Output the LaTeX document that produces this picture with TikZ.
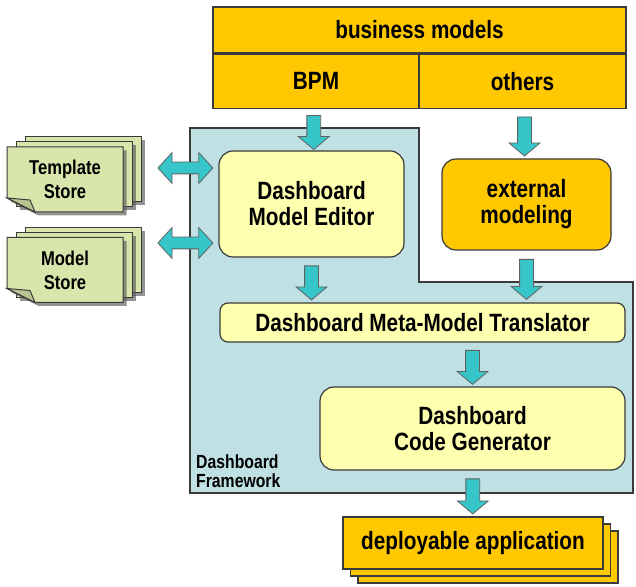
\documentclass[tikz,border=0pt]{standalone}
\usepackage{fontspec}
\setmainfont{Liberation Sans}[FakeStretch=0.83]
\usetikzlibrary{shapes.arrows, positioning, calc, shadows}
\definecolor{BizGold}{HTML}{FFC800}
\definecolor{BoxYellow}{HTML}{FFFFB0}
\definecolor{FrameBlue}{HTML}{C0E1E4}
\definecolor{FlowTeal}{HTML}{36C6CA}
\definecolor{StoreGreen}{HTML}{D8E6AC}
\definecolor{EdgeDark}{HTML}{3A3A3A}

\begin{document}
\begin{tikzpicture}[x=1pt, y=1pt, font=\bfseries\fontsize{25}{26}\selectfont,
        modelcell/.style={rectangle, draw=EdgeDark, line width=1.2pt, fill=BizGold, inner sep=0pt, text centered},
        compbox/.style={rectangle, rounded corners=14pt, draw=EdgeDark, line width=1.2pt, fill=BoxYellow, align=center, inner sep=0pt},
        flowarrow/.style={single arrow, draw=EdgeDark!80, line width=0.8pt, fill=FlowTeal, inner xsep=0pt, inner ysep=6.5pt,
            single arrow head extend=8.5pt, single arrow tip angle=100, rotate=-90},
        linkarrow/.style={double arrow, draw=EdgeDark!80, line width=0.8pt, fill=FlowTeal, inner xsep=0pt, inner ysep=5.5pt,
            double arrow head extend=9.5pt, double arrow tip angle=95, minimum height=55pt},
        pageshadow/.style={drop shadow={shadow xshift=3.5pt, shadow yshift=-3.5pt, fill=black!65, opacity=0.65}},
        pagebox/.style={draw=EdgeDark, line width=1pt, fill=StoreGreen},
        storelabel/.style={align=center, inner sep=0pt, minimum width=116pt, minimum height=65pt, font=\bfseries\fontsize{20}{24}\selectfont},
        appbox/.style={rectangle, draw=EdgeDark, line width=1.2pt, fill=BizGold, inner sep=0pt, minimum width=260pt, minimum height=52pt}]

    \useasboundingbox (0,0) rectangle (636,586);

    % framework area
    \filldraw[fill=FrameBlue, draw=EdgeDark, line width=1.2pt]
        (190,458) -- (419,458) -- (419,304) -- (633,304) -- (633,93) -- (190,93) -- cycle;
    \node[anchor=south west, align=left, inner sep=0pt, font=\bfseries\fontsize{19}{19}\selectfont] (fwlabel) at (196,98) {Dashboard\\Framework};

    % business models
    \node[modelcell, minimum width=413pt, minimum height=46pt] (bm) at (419.5,556) {business models};
    \node[modelcell, minimum width=206pt, minimum height=54pt, anchor=north west] (bpm) at (bm.south west) {BPM};
    \node[modelcell, minimum width=207pt, minimum height=54pt, anchor=north east] (others) at (bm.south east) {others};

    % components
    \node[compbox, minimum width=185pt, minimum height=106pt] (editor) at (311.5,382) {Dashboard\\Model Editor};
    \node[compbox, fill=BizGold, minimum width=169pt, minimum height=91pt] (external) at (526.5,381.5) {external\\modeling};
    \node[compbox, rounded corners=8pt, minimum width=405pt, minimum height=39pt] (translator) at (422.5,263.5) {Dashboard Meta-Model Translator};
    \node[compbox, minimum width=305pt, minimum height=83pt] (codegen) at (472.5,157.5) {Dashboard\\Code Generator};

    % stores
    \foreach \st/\y/\txt in {template/406.5/{Template\\Store}, model/316/{Model\\Store}} {
        \coordinate (\st-c) at (65,\y);
        \foreach \k in {2,1}
            \filldraw[pagebox, pageshadow] ($(\st-c)+(9*\k-58,5*\k-32.5)$) rectangle ++(116,65);
        \filldraw[pagebox, pageshadow] ($(\st-c)+(-58,32.5)$) -- ++(116,0) -- ++(0,-65) -- ++(-88,0) -- ++(-28,14) -- cycle;
        \filldraw[pagebox, fill=StoreGreen!85!black] ($(\st-c)+(-58,-18.5)$) -- ++(23,-2) -- ++(5,-12) -- cycle;
        \node[storelabel] (\st) at (\st-c) {\txt};
    }

    % deployable application
    \coordinate (deploy-c) at (473,43);
    \foreach \k in {2,1}
        \filldraw[fill=BizGold, draw=EdgeDark, line width=1.2pt] ($(deploy-c)+(7.5*\k-130,-7*\k-26)$) rectangle ++(260,52);
    \node[appbox] (deploy) at (deploy-c) {deployable application};

    % flow arrows
    \node[flowarrow, minimum height=34pt] (a1) at ($(bpm.south)!0.5!(editor.north)$) {};
    \node[flowarrow, minimum height=39pt] (a2) at ($(others.south)!0.5!(external.north)$) {};
    \node[flowarrow, minimum height=34pt] (a3) at ($(editor.south)!0.5!(editor.south |- translator.north)$) {};
    \node[flowarrow, minimum height=40pt] (a4) at ($(external.south)!0.5!(external.south |- translator.north)$) {};
    \node[flowarrow, minimum height=34pt] (a5) at ($(translator.south -| codegen.north)!0.5!(codegen.north)$) {};
    \node[flowarrow, minimum height=35pt] (a6) at ($(codegen.south)!0.5!(deploy.north)$) {};

    % store links
    \node[linkarrow] (tlink) at ($(editor.west)+(-33,36)$) {};
    \node[linkarrow] (mlink) at ($(editor.west)+(-33,-39)$) {};
\end{tikzpicture}
\end{document}
